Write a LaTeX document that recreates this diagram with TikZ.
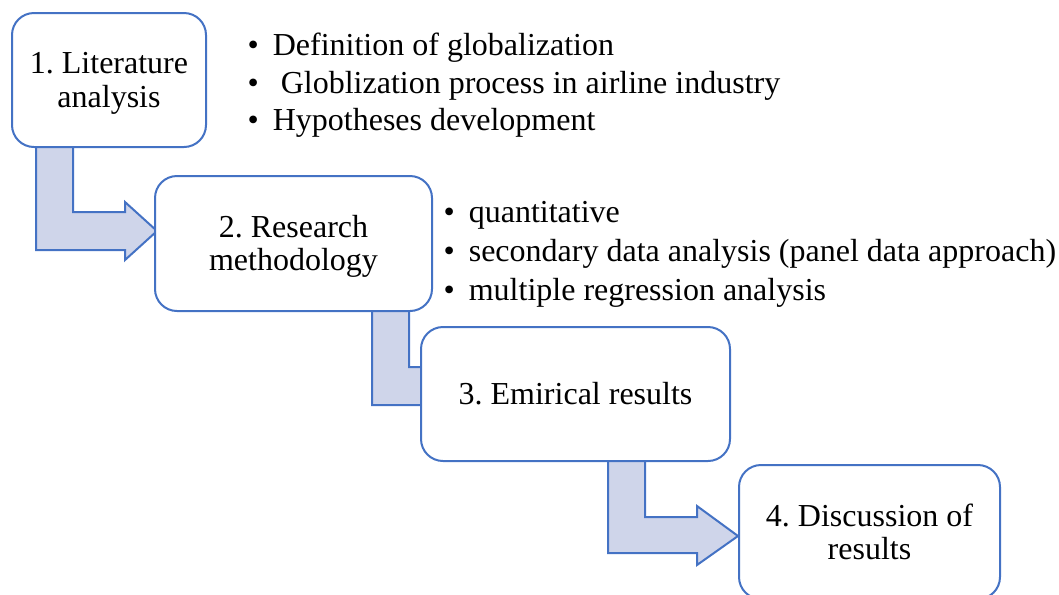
\documentclass[tikz,border=0pt]{standalone}
\usepackage{fontspec}
\setmainfont{Liberation Serif}

\definecolor{stageblue}{HTML}{4472C4}
\definecolor{stagefill}{HTML}{CFD5EA}

\newcommand{\bul}{\makebox[19pt][l]{\textbullet}}
\frenchspacing

\begin{document}
\begin{tikzpicture}[x=0.75pt,y=-0.75pt,line width=1.5pt]
  \tikzstyle{stage}=[draw=stageblue,fill=white,rounded corners=16.5pt,align=center,inner sep=0pt,minimum height=100.5pt,font=\fontsize{24}{25}\selectfont]
  \tikzstyle{bent}=[draw=stageblue,fill=stagefill,line join=miter]
  \tikzstyle{note}=[anchor=base west,inner sep=0pt,font=\fontsize{24}{28}\selectfont]

  \useasboundingbox (0,0) rectangle (1059,594);

  % bent block arrows, drawn first so the boxes sit on top
  \draw[bent] (36,140) -- (73,140) -- (73,212) -- (125,212) -- (125,202) -- (157,231)
    -- (125,260) -- (125,250) -- (36,250) -- cycle;
  \draw[bent] (372,305) -- (409,305) -- (409,367) -- (461,367) -- (461,357) -- (493,386)
    -- (461,415) -- (461,405) -- (372,405) -- cycle;
  \draw[bent] (608,455) -- (645,455) -- (645,517) -- (697,517) -- (697,506) -- (738,536)
    -- (697,565) -- (697,553) -- (608,553) -- cycle;

  \node[stage,minimum width=145.5pt] (lit) at (109,80) {\rule{0pt}{21pt}1. Literature\\analysis};
  \node[stage,minimum width=207.75pt,minimum height=101.25pt] (meth) at (293.5,243.5) {\rule{0pt}{21pt}2. Research\\methodology};
  \node[stage,minimum width=231.75pt] (res) at (575.5,394) {3. Emirical results};
  \node[stage,minimum width=195.75pt] (disc) at (869.5,532) {4. Discussion of\\results};

  % bullet notes
  \node[note] (def) at (246.5,55) {\bul Definition of globalization};
  \node[note] (proc) at (246.5,93) {\bul\ Globlization process in airline industry};
  \node[note] (hyp) at (246.5,130) {\bul Hypotheses development};

  \node[note] (quant) at (442.5,222) {\bul quantitative};
  \node[note] (sec) at (442.5,261) {\bul secondary data analysis (panel data approach)};
  \node[note] (reg) at (442.5,300) {\bul multiple regression analysis};
\end{tikzpicture}
\end{document}
